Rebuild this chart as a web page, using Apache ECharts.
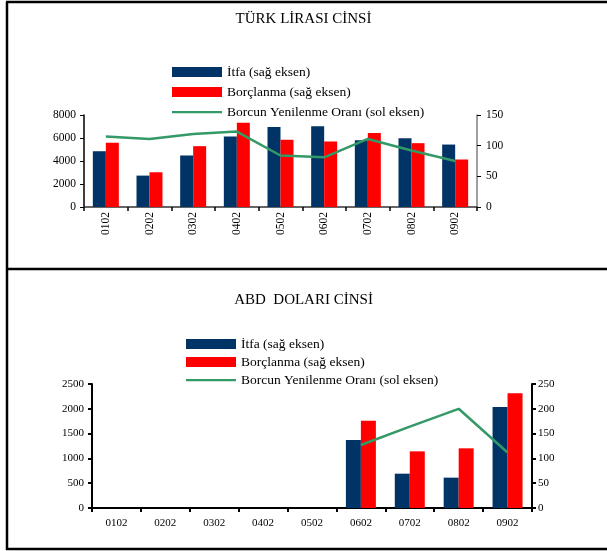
<!DOCTYPE html>
<html>
<head>
<meta charset="utf-8">
<script src="https://cdn.jsdelivr.net/npm/echarts@6/dist/echarts.min.js"></script>
<style>
  html, body { margin: 0; padding: 0; background: #fff; }
  #chart { width: 607px; height: 551px; }
</style>
</head>
<body>
<div id="chart"></div>
<script>
// kategoriler
const donemler = ["0102", "0202", "0302", "0402", "0502", "0602", "0702", "0802", "0902"];

// TL cinsi
const tlItfa = [4850, 2730, 4480, 6130, 6950, 7030, 5810, 5980, 5430];
const tlBorclanma = [5580, 3020, 5290, 7330, 5840, 5700, 6440, 5550, 4130];
const tlOran = [115, 111, 119, 123, 84, 81, 111, 92, 75];

// ABD dolari cinsi
const usdItfa = [null, null, null, null, null, 1370, 692, 612, 2036];
const usdBorclanma = [null, null, null, null, null, 1760, 1142, 1203, 2312];
const usdOran = [null, null, null, null, null, 127, 164, 200, 112];

const ad1 = "İtfa (sağ eksen)";
const ad2 = "Borçlanma (sağ eksen)";
const ad3 = "Borcun Yenilenme Oranı (sol eksen)";

const font = "Liberation Serif";
const lacivert = "#003366";
const kirmizi = "#ff0000";
const yesil = "#339966";

// ince cizgi seklinde legend ikonu (koseler bos birakiliyor)
const cizgiIkon = "path://M0,0 L0.1,0 L0,0.1 Z M0,4 L50,4 L50,6.2 L0,6.2 Z M50,10 L49.9,10 L50,9.9 Z";
const legendData = [
  { name: ad1, icon: "rect" },
  { name: ad2, icon: "rect" },
  { name: ad3, icon: cizgiIkon }
];
const duzSayi = v => String(v);

let myChart = echarts.init(document.getElementById("chart"));
myChart.setOption({
  animation: false,
  textStyle: { fontFamily: font, color: "#000" },
  title: [
    { text: "TÜRK LİRASI CİNSİ", left: "center", top: 7,
      textStyle: { fontFamily: font, fontSize: 15, fontWeight: "normal", color: "#000" } },
    { text: "ABD  DOLARI CİNSİ", left: "center", top: 288,
      textStyle: { fontFamily: font, fontSize: 15, fontWeight: "normal", color: "#000" } }
  ],
  legend: [
    {
      orient: "vertical", left: 172, top: 65, padding: 0,
      itemWidth: 50, itemHeight: 10, itemGap: 6,
      textStyle: { fontFamily: font, fontSize: 13.5, color: "#000" },
      data: legendData
    },
    {
      orient: "vertical", left: 186, top: 337, padding: 0,
      itemWidth: 50, itemHeight: 10, itemGap: 4,
      textStyle: { fontFamily: font, fontSize: 13.5, color: "#000" },
      data: legendData
    }
  ],
  grid: [
    { left: 84, right: 130, top: 115, height: 92 },
    { left: 92, right: 75, top: 384, height: 124 }
  ],
  xAxis: [
    {
      type: "category", gridIndex: 0, data: donemler,
      axisLine: { lineStyle: { color: "#333", width: 1.5 } },
      axisTick: { show: true, length: 4, lineStyle: { color: "#000", width: 1.5 } },
      axisLabel: { rotate: 90, margin: 5, fontSize: 11.5, color: "#000", fontFamily: font }
    },
    {
      type: "category", gridIndex: 1, data: donemler,
      axisLine: { lineStyle: { color: "#000", width: 2 } },
      axisTick: { show: true, length: 4, lineStyle: { color: "#000", width: 2 } },
      axisLabel: { margin: 10, fontSize: 11, color: "#000", fontFamily: font }
    }
  ],
  yAxis: [
    {
      type: "value", gridIndex: 0, min: 0, max: 8000, interval: 2000, position: "left",
      axisLine: { show: true, lineStyle: { color: "#000", width: 1.5 } },
      axisTick: { show: true, length: 4, lineStyle: { color: "#000" } },
      splitLine: { show: false },
      axisLabel: { fontSize: 11.5, color: "#000", fontFamily: font, margin: 8, formatter: duzSayi }
    },
    {
      type: "value", gridIndex: 0, min: 0, max: 150, interval: 50, position: "right",
      axisLine: { show: true, lineStyle: { color: "#808080", width: 1.5 } },
      axisTick: { show: true, length: 4, lineStyle: { color: "#000" } },
      splitLine: { show: false },
      axisLabel: { fontSize: 11.5, color: "#000", fontFamily: font, margin: 9, formatter: duzSayi }
    },
    {
      type: "value", gridIndex: 1, min: 0, max: 2500, interval: 500, position: "left",
      axisLine: { show: true, lineStyle: { color: "#000", width: 2 } },
      axisTick: { show: true, length: 4, lineStyle: { color: "#000", width: 2 } },
      splitLine: { show: false },
      axisLabel: { fontSize: 11, color: "#000", fontFamily: font, margin: 8, formatter: duzSayi }
    },
    {
      type: "value", gridIndex: 1, min: 0, max: 250, interval: 50, position: "right",
      axisLine: { show: true, lineStyle: { color: "#000", width: 2 } },
      axisTick: { show: true, length: 4, lineStyle: { color: "#000", width: 2 } },
      splitLine: { show: false },
      axisLabel: { fontSize: 11, color: "#000", fontFamily: font, margin: 6, formatter: duzSayi }
    }
  ],
  series: [
    { name: ad1, type: "bar", xAxisIndex: 0, yAxisIndex: 0, barWidth: 13, barGap: "0%",
      itemStyle: { color: lacivert }, data: tlItfa },
    { name: ad2, type: "bar", xAxisIndex: 0, yAxisIndex: 0, barWidth: 13, barGap: "0%",
      itemStyle: { color: kirmizi }, data: tlBorclanma },
    { name: ad3, type: "line", xAxisIndex: 0, yAxisIndex: 1, symbol: "none",
      lineStyle: { color: yesil, width: 2.5 }, itemStyle: { color: yesil }, data: tlOran },
    { name: ad1, type: "bar", xAxisIndex: 1, yAxisIndex: 2, barWidth: 15, barGap: "0%",
      itemStyle: { color: lacivert }, data: usdItfa },
    { name: ad2, type: "bar", xAxisIndex: 1, yAxisIndex: 2, barWidth: 15, barGap: "0%",
      itemStyle: { color: kirmizi }, data: usdBorclanma },
    { name: ad3, type: "line", xAxisIndex: 1, yAxisIndex: 3, symbol: "none",
      lineStyle: { color: yesil, width: 2.5 }, itemStyle: { color: yesil }, data: usdOran }
  ],
  graphic: [
    // cerceve cizgileri
    { type: "line", shape: { x1: 7, y1: 2, x2: 7, y2: 550 }, style: { stroke: "#000", lineWidth: 2.5 } },
    { type: "line", shape: { x1: 6, y1: 2, x2: 607, y2: 2 }, style: { stroke: "#000", lineWidth: 2.5 } },
    { type: "line", shape: { x1: 6, y1: 269, x2: 607, y2: 269 }, style: { stroke: "#000", lineWidth: 2.5 } },
    { type: "line", shape: { x1: 6, y1: 549, x2: 607, y2: 549 }, style: { stroke: "#000", lineWidth: 2.5 } }
  ]
});
</script>
</body>
</html>
